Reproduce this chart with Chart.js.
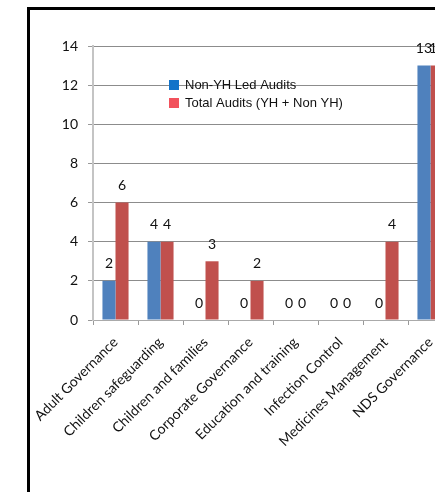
<!DOCTYPE html>
<html>
<head>
<meta charset="utf-8">
<script src="https://cdn.jsdelivr.net/npm/chart.js@4/dist/chart.umd.min.js"></script>
<style>
  html, body { margin: 0; padding: 0; background: #fff; overflow: hidden; width: 435px; height: 492px; }
  #frame { position: absolute; left: 27px; top: 7px; width: 500px; height: 600px;
           border-left: 3px solid #000; border-top: 3px solid #000; }
  #wrap { position: absolute; left: 0; top: 0; }
</style>
</head>
<body>
<div id="frame"></div>
<div id="wrap"><canvas id="auditChart" width="470" height="492"></canvas></div>
<script>
// Audit data
const categories = ['Adult Governance', 'Children safeguarding', 'Children and families',
  'Corporate Governance', 'Education and training', 'Infection Control',
  'Medicines Management', 'NDS Governance'];
const nonYhLed = [2, 4, 0, 0, 0, 0, 0, 13];
const totalAudits = [6, 4, 3, 2, 0, 0, 4, 13];
const yTicks = [0, 2, 4, 6, 8, 10, 12, 14];

const legendColors = ['#1273c9', '#f2525c'];

// value labels above each bar
const valueLabels = {
  id: 'valueLabels',
  afterDatasetsDraw(chart) {
    const ctx = chart.ctx;
    ctx.save();
    ctx.font = '14px Lato';
    ctx.fillStyle = '#111';
    ctx.textAlign = 'center';
    ctx.textBaseline = 'middle';
    chart.data.datasets.forEach((ds, i) => {
      chart.getDatasetMeta(i).data.forEach((bar, j) => {
        ctx.fillText(ds.data[j], bar.x, bar.y - 17);
      });
    });
    ctx.restore();
  }
};

// legend sits inside the plot
const innerLegend = {
  id: 'innerLegend',
  afterDraw(chart) {
    const ctx = chart.ctx;
    ctx.save();
    ctx.font = '13px "Liberation Sans"';
    ctx.textBaseline = 'middle';
    chart.data.datasets.forEach((ds, i) => {
      const y = 85 + i * 18;
      ctx.fillStyle = legendColors[i];
      ctx.fillRect(169, y - 5, 10, 10);
      ctx.fillStyle = '#111';
      ctx.fillText(ds.label, 185, y);
    });
    ctx.restore();
  }
};

new Chart(document.getElementById('auditChart'), {
  type: 'bar',
  data: {
    labels: categories,
    datasets: [{
      label: 'Non-YH Led Audits',
      data: nonYhLed,
      backgroundColor: '#4f81bd'
    }, {
      label: 'Total Audits (YH + Non YH)',
      data: totalAudits,
      backgroundColor: '#c0504d'
    }]
  },
  options: {
    responsive: false,
    animation: false,
    layout: { padding: { top: 46, right: 17, left: 0, bottom: 0 } },
    categoryPercentage: 0.58,
    barPercentage: 1,
    plugins: { legend: { display: false }, tooltip: { enabled: false } },
    scales: {
      x: {
        afterFit(scale) { scale.height = 172; },
        grid: { offset: true, drawOnChartArea: false, tickLength: 5, color: '#999' },
        border: { color: '#aaa', width: 1 },
        ticks: { minRotation: 45, maxRotation: 45, autoSkip: false, padding: 9,
                 color: '#111', font: { family: 'Lato', size: 14 } }
      },
      y: {
        min: 0, max: 14,
        afterFit(scale) { scale.width = 93; },
        afterBuildTicks(scale) { scale.ticks = yTicks.map(v => ({ value: v })); },
        grid: { color: '#8c8c8c', tickLength: 5, tickColor: '#999' },
        border: { color: '#c4c4c4', width: 2 },
        ticks: { padding: 10, color: '#111', font: { family: 'Lato', size: 14 } }
      }
    }
  },
  plugins: [valueLabels, innerLegend]
});
</script>
</body>
</html>
